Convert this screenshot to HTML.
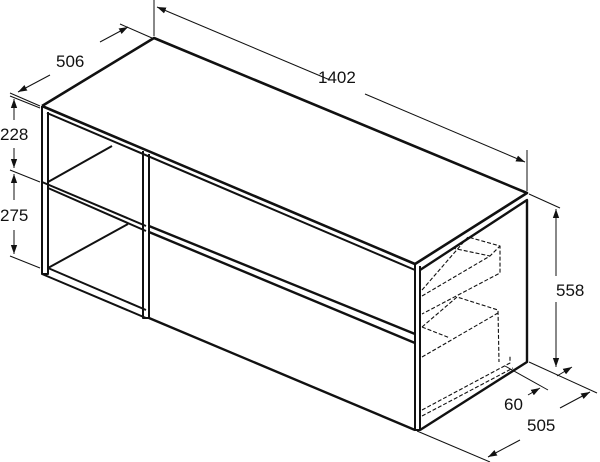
<!DOCTYPE html>
<html><head><meta charset="utf-8"><style>
html,body{margin:0;padding:0;background:#fff}
svg{display:block}
text{font-family:"Liberation Sans",sans-serif;font-size:17px;fill:#111}
</style></head><body>
<svg width="600" height="462" viewBox="0 0 600 462" xmlns="http://www.w3.org/2000/svg">
<defs><marker id="a" viewBox="0 0 10 10" refX="10" refY="5" markerWidth="9" markerHeight="9" orient="auto-start-reverse" markerUnits="userSpaceOnUse"><path d="M0,1.5 L10,5 L0,8.5 z" fill="#111"/></marker></defs>
<g fill="none" stroke="#111" stroke-linejoin="round">
<!-- top -->
<path d="M42,106 L154,38 L527,193 L415,264" stroke-width="2.6"/>
<path d="M42,106 L415,264" stroke-width="2.6"/>
<path d="M47,113 L415,270" stroke-width="2"/>
<!-- right face -->
<path d="M420,270 L527,200 L527,362 L420,430" stroke-width="2.4"/>
<path d="M415,264 L415,430 L420,430 L420,266" stroke-width="2"/>
<!-- left frame -->
<path d="M42,106 L42,274 L48,274 L48,112" stroke-width="2"/>
<path d="M42,182 L146,226" stroke-width="2"/>
<path d="M48,188 L146,231" stroke-width="2"/>
<path d="M48,182 L112,146" stroke-width="2"/>
<path d="M48,268 L128,224" stroke-width="2"/>
<path d="M42,274 L146,318" stroke-width="2"/>
<path d="M48,268 L146,310" stroke-width="2"/>
<path d="M143,151 L143,318 L149,318 L149,154" stroke-width="2"/>
<!-- middle shelf line -->
<path d="M149,226 L415,334" stroke-width="2.4"/>
<path d="M149,232 L415,343" stroke-width="2.4"/>
<path d="M149,318 L415,430" stroke-width="2.4"/>
<!-- dashed drawers -->
<g stroke-width="1.1" stroke-dasharray="4,2">
<path d="M422,290 L468,237 L500,246 L500,273 L422,314"/>
<path d="M422,296 L490,256 L500,246"/>
<path d="M452,248 L490,256"/>
<path d="M422,327 L457,297 L498,310 L499,362"/>
<path d="M422,327 L450,338"/>
<path d="M422,357 L498,313"/>
<path d="M422,410 L510,363 L510,355"/>
<path d="M422,416 L513,368"/>
</g>
</g>
<!-- dimensions -->
<g stroke="#111" stroke-width="1" fill="none">
<path d="M154,36 L154,0"/>
<path d="M527,191 L527,150"/>
<path d="M157,7 L330,80" marker-start="url(#a)"/>
<path d="M365,94 L525,162" marker-end="url(#a)"/>
<path d="M152,38 L120,24"/>
<path d="M40,106 L10,93"/>
<path d="M100,42 L128,27" marker-end="url(#a)"/>
<path d="M50,75 L18,92" marker-end="url(#a)"/>
<path d="M40,108 L10,96"/>
<path d="M40,182 L10,170"/>
<path d="M40,268 L10,256"/>
<path d="M14,120 L14,99" marker-end="url(#a)"/>
<path d="M14,148 L14,168" marker-end="url(#a)"/>
<path d="M14,200 L14,174" marker-end="url(#a)"/>
<path d="M14,230 L14,254" marker-end="url(#a)"/>
<path d="M529,194 L560,208"/>
<path d="M556,276 L556,209" marker-end="url(#a)"/>
<path d="M556,302 L556,367" marker-end="url(#a)"/>
<path d="M529,362 L597,393"/>
<path d="M505,366 L548,390"/>
<path d="M528,395 L540,388" marker-end="url(#a)"/>
<path d="M572,367 L557,376" marker-start="url(#a)"/>
<path d="M417,431 L490,462"/>
<path d="M590,392 L560,408" marker-start="url(#a)"/>
<path d="M520,440 L488,457" marker-end="url(#a)"/>
</g>
<text x="318" y="83">1402</text>
<text x="56" y="67">506</text>
<text x="0" y="140">228</text>
<text x="0" y="221">275</text>
<text x="556" y="296">558</text>
<text x="504" y="410">60</text>
<text x="527" y="431">505</text>
</svg>
</body></html>
